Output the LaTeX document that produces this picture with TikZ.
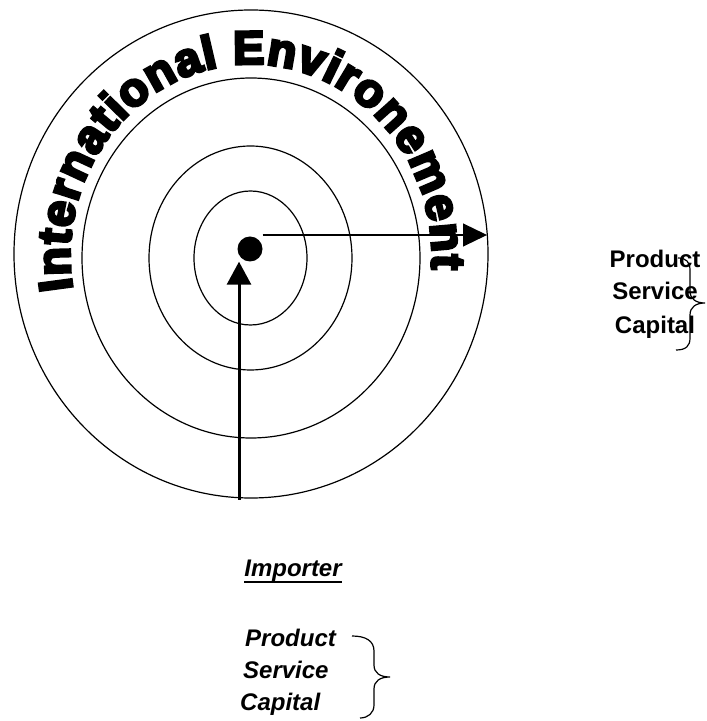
\documentclass[tikz,border=0pt]{standalone}
\usepackage{fontspec}
\usetikzlibrary{arrows.meta,decorations.text}
\newfontfamily\labfont{Liberation Sans}
\newfontfamily\archfont[FakeBold=6]{Liberation Sans Bold}
\tikzset{
  ring/.style={draw=black, line width=1.2pt},
  thinarrow/.style={line width=1.2pt, -{Triangle[length=24pt,width=23pt]}},
  thickarrow/.style={line width=3pt, -{Triangle[length=23pt,width=24pt]}},
  brace/.style={draw=black, line width=1.2pt},
  listlabel/.style={inner sep=0pt, anchor=base west, font=\labfont\bfseries\itshape\fontsize{24}{24}\selectfont},
  sidelabel/.style={inner sep=0pt, anchor=base, font=\labfont\bfseries\fontsize{24}{24}\selectfont},
}
\begin{document}
\begin{tikzpicture}[x=1pt,y=1pt]
\useasboundingbox (0,0) rectangle (707,721);
\fill[white] (0,0) rectangle (707,721);

% concentric rings
\draw[ring] (251,467) ellipse [x radius=237, y radius=244];
\draw[ring] (251,463) ellipse [x radius=169, y radius=180];
\draw[ring] (250.5,463) ellipse [x radius=101.5, y radius=112];
\draw[ring] (250.5,463) ellipse [x radius=56.5, y radius=67];

% arched title between the two outer rings
\path[decorate, decoration={text along path, text align={fit to path},
  text={|\archfont\fontsize{47}{47}\selectfont|International Environement}}]
  (251,465) ++(190:181 and 192) arc [start angle=190, end angle=-4, x radius=181, y radius=192];

% centre point and the two flows
\node[circle, fill=black, inner sep=0pt, minimum size=25pt] (dot) at (250,472) {};
\coordinate (hend) at (487,486);
\coordinate (vstart) at (239,221);
\draw[thinarrow] (dot.east |- hend) -- (hend);
\draw[thickarrow] (vstart) -- (vstart |- dot.south);

% importer block
\node[inner sep=0pt, anchor=base, font=\labfont\bfseries\itshape\fontsize{24}{24}\selectfont] (imp) at (293,144) {Importer};
\draw[line width=2pt] ([yshift=-5pt]imp.base west) -- ([yshift=-5pt]imp.base east);
\node[listlabel] (bp) at (245,74) {Product};
\node[listlabel] (bs) at (243,42) {Service};
\node[listlabel] (bc) at (240,10) {Capital};
\draw[brace] (352,85) .. controls (366,85) and (374,80) .. (374,70) -- (374,56)
  .. controls (374,48) and (380,44) .. (390,44)
  .. controls (380,44) and (374,40) .. (374,32) -- (374,16)
  .. controls (374,8) and (368,3) .. (360,3);

% side block
\node[sidelabel] (sp) at (655,453) {Product};
\node[sidelabel] (ss) at (655,421) {Service};
\node[sidelabel] (sc) at (655,387) {Capital};
\draw[brace] (678,463) .. controls (686,463) and (690,459) .. (690,451) -- (690,430)
  .. controls (690,422) and (696,418) .. (705,418)
  .. controls (696,418) and (690,414) .. (690,406) -- (690,383)
  .. controls (690,375) and (686,371) .. (676,371);
\end{tikzpicture}
\end{document}
